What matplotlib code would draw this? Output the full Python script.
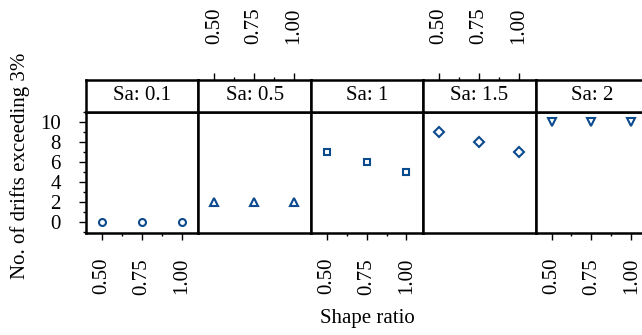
import matplotlib
matplotlib.use("Agg")
import matplotlib.pyplot as plt
from matplotlib.ticker import MultipleLocator, FixedLocator

plt.rcParams['font.family'] = ['Liberation Serif', 'DejaVu Serif']
plt.rcParams['font.size'] = 15

# drift counts per panel, one list per Sa level
sa_labels = ['Sa: 0.1', 'Sa: 0.5', 'Sa: 1', 'Sa: 1.5', 'Sa: 2']
shape_ratio = [0.50, 0.75, 1.00]
drifts_sa01 = [0, 0, 0]
drifts_sa05 = [2, 2, 2]
drifts_sa1 = [7, 6, 5]
drifts_sa15 = [9, 8, 7]
drifts_sa2 = [10, 10, 10]
markers = ['o', '^', 's', 'D', 'v']
marker_sizes = [5, 5.5, 5, 5, 6]

all_drifts = [drifts_sa01, drifts_sa05, drifts_sa1, drifts_sa15, drifts_sa2]

W, H = 642, 335
fig = plt.figure(figsize=(W / 100, H / 100), dpi=100)

blue = '#0C4A8E'
frame_lw = 1.8
x_left = 86
panel_w = 112.4
panel_top, panel_bot = 112, 233
strip_top = 80

xticks = [0.5, 0.75, 1.0]
xticklabels = ['0.50', '0.75', '1.00']


def style_frame(ax):
    for sp in ax.spines.values():
        sp.set_linewidth(frame_lw)
        sp.set_color('black')


for i, (lab, yv) in enumerate(zip(sa_labels, all_drifts)):
    x0 = (x_left + i * panel_w) / W
    w = panel_w / W
    ax = fig.add_axes([x0, (H - panel_bot) / H, w, (panel_bot - panel_top) / H])
    ax.plot(shape_ratio, yv, linestyle='none', marker=markers[i],
            ms=marker_sizes[i], mfc='none', mec=blue, mew=1.5)
    ax.set_xlim(0.4, 1.105)
    ax.set_ylim(-1.1, 11.05)
    style_frame(ax)

    ax.tick_params(which='both', direction='out', width=1.0, color='black')
    ax.tick_params(which='major', length=5)
    ax.tick_params(which='minor', length=2.5)

    # y axis only on the first panel
    ax.yaxis.set_major_locator(MultipleLocator(2))
    ax.yaxis.set_minor_locator(MultipleLocator(1))
    if i == 0:
        ax.tick_params(axis='y', which='major', pad=13)
    else:
        ax.tick_params(axis='y', which='both', left=False, labelleft=False)

    # x axis alternates: bottom for odd panels, top (on the strip) for even
    ax.xaxis.set_major_locator(FixedLocator(xticks))
    ax.xaxis.set_minor_locator(FixedLocator([0.625, 0.875]))
    if i % 2 == 0:
        ax.set_xticklabels(xticklabels, rotation=90)
        ax.tick_params(axis='x', which='major', pad=13)
    else:
        ax.tick_params(axis='x', which='both', bottom=False, labelbottom=False)

    # strip with panel title
    sax = fig.add_axes([x0, (H - panel_top) / H, w, (panel_top - strip_top) / H])
    sax.set_xlim(0.4, 1.105)
    sax.set_ylim(0, 1)
    style_frame(sax)
    sax.text(0.5, 0.5, lab, transform=sax.transAxes, ha='center', va='center')
    sax.set_yticks([])
    sax.tick_params(axis='x', which='both', bottom=False, labelbottom=False)
    if i % 2 == 1:
        sax.xaxis.set_major_locator(FixedLocator(xticks))
        sax.xaxis.set_minor_locator(FixedLocator([0.625, 0.875]))
        sax.tick_params(axis='x', which='both', top=True, labeltop=True,
                        direction='out', width=1.0)
        sax.tick_params(axis='x', which='major', length=5, pad=21)
        sax.tick_params(axis='x', which='minor', length=2.5)
        sax.set_xticklabels(xticklabels, rotation=90)

fig.text(20 / W, 1 - 166 / H, 'No. of drifts exceeding 3%', rotation=90,
         ha='center', va='center')
fig.text(367 / W, 1 - 318 / H, 'Shape ratio', ha='center', va='center')

fig.savefig('out.png', dpi=100)
